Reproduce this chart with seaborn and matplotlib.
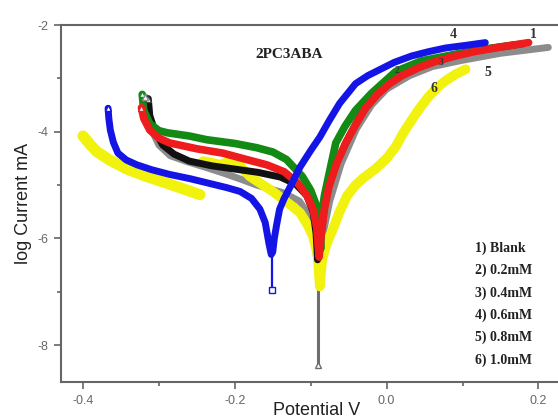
import matplotlib
matplotlib.use("Agg")
import matplotlib.pyplot as plt
import seaborn as sns
import numpy as np
import pandas as pd

# ---- data ----
blank_x = [-0.314, -0.312, -0.305, -0.295, -0.280, -0.260, -0.230, -0.200, -0.170, -0.140, -0.120,
           -0.105, -0.097, -0.093, -0.091, -0.089, -0.086, -0.082, -0.076, -0.065, -0.050, -0.035,
           -0.015, 0.010, 0.040, 0.080, 0.130, 0.180]
blank_y = [-3.38, -3.70, -4.00, -4.25, -4.42, -4.55, -4.64, -4.70, -4.76, -4.85, -4.98,
           -5.20, -5.50, -5.90, -6.40, -6.20, -5.90, -5.40, -5.00, -4.55, -4.10, -3.70,
           -3.30, -3.00, -2.75, -2.58, -2.45, -2.35]

c02_x = [-0.322, -0.320, -0.312, -0.300, -0.289, -0.260, -0.237, -0.200, -0.171, -0.150, -0.132,
         -0.111, -0.100, -0.092, -0.088, -0.087, -0.086, -0.082, -0.076, -0.067, -0.055, -0.041,
         -0.020, 0.012, 0.046, 0.072, 0.120, 0.170]
c02_y = [-3.30, -3.60, -3.85, -3.98, -4.02, -4.08, -4.15, -4.22, -4.30, -4.38, -4.52,
         -4.84, -5.10, -5.40, -5.80, -6.20, -5.60, -5.20, -4.80, -4.21, -3.90, -3.60,
         -3.28, -2.87, -2.67, -2.60, -2.47, -2.37]

c04_x = [-0.323, -0.320, -0.312, -0.300, -0.286, -0.250, -0.216, -0.190, -0.158, -0.135, -0.118,
         -0.105, -0.097, -0.092, -0.089, -0.086, -0.082, -0.076, -0.066, -0.054, -0.040, -0.028,
         -0.012, 0.003, 0.020, 0.042, 0.065, 0.091, 0.115, 0.143, 0.165, 0.187]
c04_y = [-3.55, -3.75, -3.97, -4.12, -4.21, -4.32, -4.40, -4.50, -4.62, -4.75, -4.95,
         -5.20, -5.45, -5.80, -6.35, -5.90, -5.45, -5.03, -4.60, -4.21, -3.85, -3.56,
         -3.30, -3.11, -2.95, -2.80, -2.68, -2.58, -2.50, -2.43, -2.38, -2.33]

c06_x = [-0.367, -0.366, -0.364, -0.360, -0.354, -0.343, -0.329, -0.310, -0.286, -0.259, -0.233,
         -0.210, -0.193, -0.178, -0.167, -0.160, -0.155, -0.152, -0.150, -0.148, -0.145, -0.141,
         -0.135, -0.128, -0.114, -0.100, -0.088, -0.076, -0.062, -0.041, -0.025, -0.011, 0.010,
         0.033, 0.055, 0.078, 0.105, 0.130]
c06_y = [-3.56, -3.75, -3.97, -4.20, -4.40, -4.53, -4.62, -4.71, -4.80, -4.88, -4.97,
         -5.05, -5.12, -5.25, -5.45, -5.70, -6.10, -6.30, -6.25, -6.00, -5.75, -5.45,
         -5.25, -5.06, -4.66, -4.35, -4.10, -3.80, -3.47, -3.10, -2.95, -2.85, -2.70,
         -2.58, -2.50, -2.43, -2.38, -2.33]
c06_ecorr_x = [-0.151, -0.151]
c06_ecorr_y = [-6.20, -6.97]

c08_x = [-0.318, -0.316, -0.310, -0.300, -0.285, -0.263, -0.240, -0.216, -0.190, -0.171, -0.137,
         -0.115, -0.103, -0.096, -0.092, -0.089, -0.085, -0.075, -0.060, -0.040, -0.020, 0.000,
         0.030, 0.060, 0.100, 0.150, 0.213]
c08_y = [-3.35, -3.60, -3.95, -4.25, -4.45, -4.56, -4.66, -4.77, -4.90, -5.00, -5.14,
         -5.30, -5.55, -5.90, -6.40, -6.50, -6.00, -5.30, -4.60, -3.95, -3.50, -3.20,
         -2.95, -2.78, -2.66, -2.53, -2.42]
c08_ecorr_x = [-0.091, -0.091]
c08_ecorr_y = [-6.30, -8.37]

c10a_x = [-0.400, -0.390, -0.382, -0.365, -0.342, -0.320, -0.299, -0.270, -0.246]
c10a_y = [-4.08, -4.25, -4.37, -4.53, -4.70, -4.82, -4.92, -5.06, -5.18]
c10b_x = [-0.242, -0.230, -0.220, -0.207, -0.197, -0.188, -0.180, -0.165, -0.150, -0.124,
          -0.114, -0.104, -0.097, -0.091, -0.088, -0.085, -0.079, -0.070, -0.062, -0.052,
          -0.041, -0.030, -0.015, 0.000, 0.012, 0.022, 0.033, 0.044, 0.055, 0.066, 0.078,
          0.090, 0.104]
c10b_y = [-4.55, -4.58, -4.62, -4.56, -4.58, -4.72, -4.84, -4.98, -5.12, -5.40,
          -5.52, -5.75, -5.96, -6.30, -6.90, -6.40, -6.10, -5.80, -5.50, -5.20,
          -5.00, -4.86, -4.70, -4.50, -4.28, -4.02, -3.78, -3.55, -3.35, -3.18, -3.04,
          -2.93, -2.83]

legend_lines = ["1) Blank", "2) 0.2mM", "3) 0.4mM", "4) 0.6mM", "5) 0.8mM", "6) 1.0mM"]
x_ticks = [-0.4, -0.2, 0.0, 0.2]
x_ticklabels = ["-0.4", "-0.2", "0.0", "0.2"]
y_ticks = [-2, -4, -6, -8]
y_ticklabels = ["-2", "-4", "-6", "-8"]

# ---- figure ----
sns.set_style("ticks")
plt.rcParams["font.family"] = ["Liberation Sans", "DejaVu Sans"]

fig = plt.figure(figsize=(5.58, 4.2), dpi=100)
ax = fig.add_axes([61 / 558, 1 - 382 / 420, (584 - 61) / 558, (382 - 25) / 420])

def band(x, y, color, lw, z):
    df = pd.DataFrame({"x": x, "y": y})
    sns.lineplot(data=df, x="x", y="y", sort=False, estimator=None, errorbar=None,
                 color=color, lw=lw, ax=ax, zorder=z,
                 solid_capstyle="round", solid_joinstyle="round")

GRAY = "#8c8c8c"
YEL = "#f2f20f"
BLK = "#111111"
GRN = "#138a13"
RED = "#ee1c1c"
BLU = "#1414e6"

# gray (0.8 mM)
band(c08_ecorr_x, c08_ecorr_y, "#6e6e6e", 2.2, 2)
ax.plot(c08_ecorr_x[-1:], c08_ecorr_y[-1:], marker="^", ms=4, mfc="white", mec="#6e6e6e", zorder=2)
band(c08_x, c08_y, GRAY, 5, 2)
# yellow (1.0 mM)
band(c10a_x, c10a_y, YEL, 8, 3)
band(c10b_x, c10b_y, YEL, 7, 3)
# black (blank)
band(blank_x, blank_y, BLK, 5, 4)
# green (0.2 mM)
band(c02_x, c02_y, GRN, 5.5, 5)
# red (0.4 mM)
band(c04_x, c04_y, RED, 5.5, 6)
# blue (0.6 mM)
band(c06_ecorr_x, c06_ecorr_y, BLU, 1.6, 7)
ax.plot(c06_ecorr_x[-1:], c06_ecorr_y[-1:], marker="s", ms=4, mfc="white", mec=BLU, zorder=7)
band(c06_x, c06_y, BLU, 5, 7)

# start markers (hollow triangles)
for xs, ys, col in [(c06_x, c06_y, BLU), (c02_x, c02_y, GRN), (blank_x, blank_y, "#444444"),
                    (c04_x, c04_y, RED), (c08_x, c08_y, GRAY)]:
    ax.plot(xs[:1], ys[:1], marker="^", ms=5, mfc="white", mec=col, mew=1, zorder=8)

ax.set_xlim(-0.429, 0.26)
ax.set_ylim(-8.69, -2.0)

ax.set_xticks(x_ticks)
ax.set_xticklabels(x_ticklabels)
ax.set_xticks([-0.3, -0.1, 0.1], minor=True)
ax.set_yticks(y_ticks)
ax.set_yticklabels(y_ticklabels)
ax.set_yticks([-3, -5, -7], minor=True)

ax.tick_params(axis="both", which="major", direction="out", length=5, width=1.2,
               color="#666666", labelcolor="#666666", labelsize=9, pad=4)
ax.tick_params(axis="both", which="minor", direction="out", length=3, width=1.2,
               color="#666666")
for s in ["left", "bottom", "top"]:
    ax.spines[s].set_color("#666666")
    ax.spines[s].set_linewidth(1.5)
    ax.spines[s].set_visible(True)
ax.spines["right"].set_visible(False)

ax.set_xlabel("Potential V", fontsize=13, color="#222222", labelpad=2)
ax.set_ylabel("log Current mA", fontsize=13, color="#222222", labelpad=4)
ax.xaxis.set_label_coords((317 - 61) / (584 - 61), -0.055)

serif = ["Liberation Serif", "DejaVu Serif"]
ax.text(-0.128, -2.55, "2PC3ABA", fontsize=11, fontweight="bold", family=serif,
        ha="center", va="center", color="#222222")

for i, t in enumerate(legend_lines):
    ax.text(0.117, -6.18 - i * 0.42, t, fontsize=10, fontweight="bold", family=serif,
            ha="left", va="center", color="#222222")

for lab, lx, ly, fs in [("4", 0.088, -2.17, 10), ("1", 0.193, -2.17, 10), ("5", 0.134, -2.89, 10),
                        ("6", 0.062, -3.19, 10), ("2", 0.013, -2.85, 7), ("3", 0.072, -2.70, 7)]:
    ax.text(lx, ly, lab, fontsize=fs, fontweight="bold", family=serif,
            ha="center", va="center", color="#333333", zorder=10)

fig.savefig("out.png", dpi=100)
